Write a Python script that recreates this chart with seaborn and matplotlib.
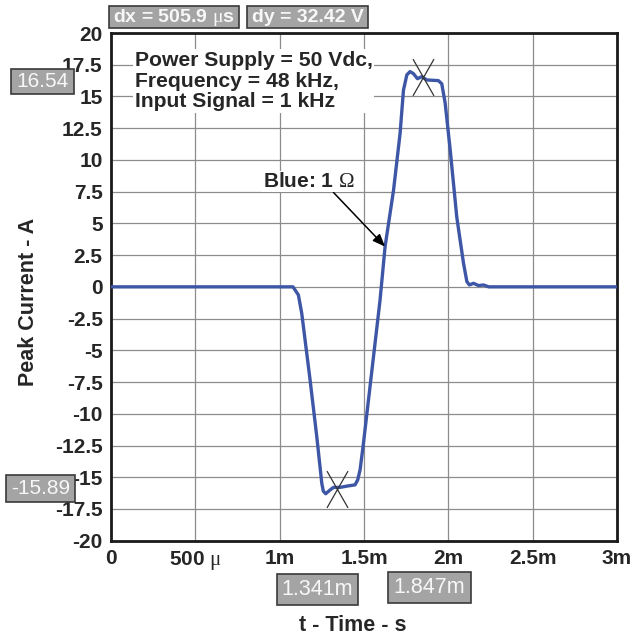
import numpy as np
import matplotlib
matplotlib.use("Agg")
import matplotlib.pyplot as plt
from matplotlib.path import Path
from matplotlib.patches import Rectangle
import seaborn as sns

# waveform (time in ms, current in A)
t_ms = [0.0, 1.079, 1.111, 1.131, 1.180, 1.220, 1.250, 1.259, 1.273, 1.299,
        1.319, 1.358, 1.398, 1.447, 1.463, 1.477, 1.497, 1.595, 1.625, 1.675,
        1.714, 1.734, 1.754, 1.773, 1.793, 1.817, 1.843, 1.872, 1.941, 1.961,
        1.981, 2.011, 2.050, 2.090, 2.110, 2.125, 2.149, 2.179, 2.208, 2.240, 3.0]
current = [0.0, 0.0, -0.64, -2.1, -7.3, -11.8, -15.5, -16.1, -16.3, -16.0,
           -15.8, -15.8, -15.7, -15.6, -15.2, -14.4, -12.3, -1.06, 3.17, 7.6,
           12.1, 15.5, 16.7, 16.96, 16.8, 16.4, 16.56, 16.3, 16.25, 16.0,
           14.5, 10.8, 5.5, 1.86, 0.41, 0.15, 0.28, 0.1, 0.15, 0.0, 0.0]

cursor_t = [1.341, 1.847]
cursor_v = [-15.89, 16.54]
dx_us = 505.9
dy_v = 32.42

x_ticks = [0, 0.5, 1.0, 1.5, 2.0, 2.5, 3.0]
x_labels = ["0", r"500 $\mathrm{\mu}$", "1m", "1.5m", "2m", "2.5m", "3m"]
y_ticks = np.arange(-20, 20.1, 2.5)

note_text = "Power Supply = 50 Vdc,\nFrequency = 48 kHz,\nInput Signal = 1 kHz"
arrow_idx = 18  # point on the rising edge where the arrow lands

sns.set_style("white")
plt.rcParams["font.family"] = ["Liberation Sans", "DejaVu Sans"]
plt.rcParams["mathtext.fontset"] = "custom"
plt.rcParams["mathtext.rm"] = "Liberation Serif"
plt.rcParams["mathtext.it"] = "Liberation Serif:italic"

W, H = 636, 637
fig = plt.figure(figsize=(W / 100, H / 100), dpi=100)
ax = fig.add_axes([111 / W, 1 - 540.7 / H, 506 / W, 507.7 / H])

sns.lineplot(x=t_ms, y=current, ax=ax, color="#3d56a6", lw=2.4,
             sort=False, estimator=None, zorder=3)

# cursor crosses
cross = Path([(-1, -1.75), (1, 1.75), (-1, 1.75), (1, -1.75)],
             [Path.MOVETO, Path.LINETO, Path.MOVETO, Path.LINETO])
ax.plot(cursor_t, cursor_v, ls="none", marker=cross, ms=26.5, mew=0.9,
        mfc="none", mec="#333333", zorder=4)

ax.set_xlim(0, 3)
ax.set_ylim(-20, 20)
ax.set_xticks(x_ticks, x_labels)
ax.set_yticks(y_ticks, [f"{v:g}" for v in y_ticks])
ax.tick_params(length=0, labelsize=15, pad=6)
for lab in ax.get_xticklabels() + ax.get_yticklabels():
    lab.set_fontweight("bold")
ax.grid(True, color="#8c8c8c", lw=0.9)
for s in ax.spines.values():
    s.set_visible(True)
    s.set_color("#1a1a1a")
    s.set_linewidth(2)

ax.set_xlabel("t - Time - s", fontsize=15.5, fontweight="bold", va="top")
ax.xaxis.set_label_coords(0.478, -0.147)
ax.set_ylabel("Peak Current - A", fontsize=15.5, fontweight="bold", va="center")
ax.yaxis.set_label_coords(-0.164, 0.471)

ax.text(0.142, 18.6, note_text, fontsize=15.2, fontweight="bold", va="top",
        ha="left", linespacing=1.12, zorder=5,
        bbox=dict(facecolor="white", edgecolor="none", pad=1))

ax.annotate(r"Blue: 1 $\mathrm{\Omega}$", xy=(t_ms[arrow_idx], current[arrow_idx]),
            xytext=(0.902, 7.87), fontsize=15, fontweight="bold",
            ha="left", va="baseline", zorder=5,
            bbox=dict(facecolor="white", edgecolor="none", pad=1),
            arrowprops=dict(arrowstyle="-|>,head_length=0.5,head_width=0.2",
                            color="black", lw=1.1, relpos=(0.75, 0),
                            shrinkA=0, shrinkB=0))

# grey readout boxes (centre x, centre y, width, height in pixels)
readouts = [
    (f"dx = {dx_us:.1f} " + r"$\mathrm{\mu}$s", 174, 17, 130, 22, 14, "bold"),
    (f"dy = {dy_v:.2f} V", 307.5, 17, 121, 22, 14, "bold"),
    (f"{cursor_v[1]:.2f}", 42.5, 81.5, 63, 25, 15, "normal"),
    (f"{cursor_v[0]:.2f}", 40.5, 488.5, 69, 27, 15, "normal"),
    (f"{cursor_t[0]:.3f}m", 317, 589.5, 81, 31, 15.5, "normal"),
    (f"{cursor_t[1]:.3f}m", 429.5, 587.5, 83, 31, 15.5, "normal"),
]
for txt, cx, cy, w, h, fs, fw in readouts:
    fig.patches.append(Rectangle(((cx - w / 2) / W, 1 - (cy + h / 2) / H), w / W, h / H,
                                 transform=fig.transFigure, facecolor="#a4a4a4",
                                 edgecolor="#3a3a3a", lw=1.2, zorder=5))
    fig.text(cx / W, 1 - cy / H, txt, ha="center", va="center", fontsize=fs,
             fontweight=fw, color="#f7f7f7", zorder=6)

fig.savefig("out.png", dpi=100)
